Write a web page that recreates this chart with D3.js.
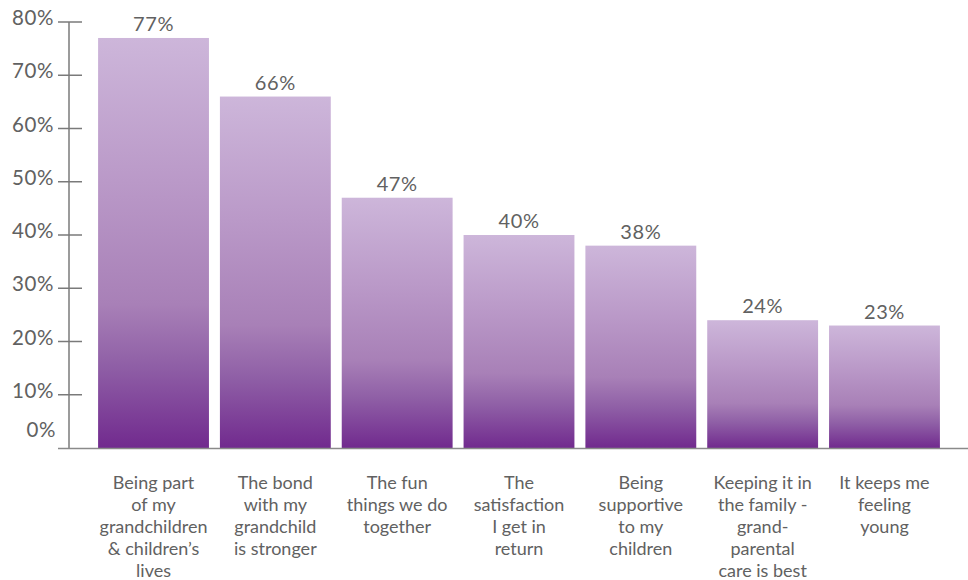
<!DOCTYPE html>
<html>
<head>
<meta charset="utf-8">
<script src="https://cdn.jsdelivr.net/npm/d3@7"></script>
<style>
  html, body { margin: 0; padding: 0; background: #fff; }
  svg { display: block; }
  text { font-family: Lato, "Open Sans", sans-serif; }
</style>
</head>
<body>
<div id="chart"></div>
<script>
// Reasons given by grandparents for providing childcare (% of respondents)
const categories = [
  "Being part of my grandchildren & children's lives",
  "The bond with my grandchild is stronger",
  "The fun things we do together",
  "The satisfaction I get in return",
  "Being supportive to my children",
  "Keeping it in the family - grandparental care is best",
  "It keeps me feeling young"
];
const categoryLines = [
  ["Being part", "of my", "grandchildren", "& children\u2019s", "lives"],
  ["The bond", "with my", "grandchild", "is stronger"],
  ["The fun", "things we do", "together"],
  ["The", "satisfaction", "I get in", "return"],
  ["Being", "supportive", "to my", "children"],
  ["Keeping it in", "the family -", "grand-", "parental", "care is best"],
  ["It keeps me", "feeling", "young"]
];
const values = [77, 66, 47, 40, 38, 24, 23];
const yTicks = [0, 10, 20, 30, 40, 50, 60, 70, 80];

const width = 968, height = 580;
const margin = { top: 22, right: 29, bottom: 132, left: 69 };

const svg = d3.select("#chart").append("svg")
  .attr("width", width).attr("height", height);

// vertical gradient applied per bar: light lilac on top, deep purple at the base
const defs = svg.append("defs");
const grad = defs.append("linearGradient")
  .attr("id", "barFill")
  .attr("x1", 0).attr("y1", 0).attr("x2", 0).attr("y2", 1);
[
  [0.00, "#cdb6da"],
  [0.35, "#ba99c8"],
  [0.65, "#a880b7"],
  [0.80, "#8f5fa6"],
  [1.00, "#712a8e"]
].forEach(([o, c]) => grad.append("stop").attr("offset", o).attr("stop-color", c));

const y = d3.scaleLinear()
  .domain([0, 80])
  .range([height - margin.bottom, margin.top]);

const x = d3.scaleBand()
  .domain(categories)
  .range([92, 946])
  .paddingInner(0.09)
  .paddingOuter(0.05);

const baseY = y(0);
const textColor = "#616161";

// y axis: vertical rule with crossing ticks
const axisColor = "#7a7a7a";
svg.append("line")
  .attr("x1", margin.left).attr("x2", margin.left)
  .attr("y1", y(80)).attr("y2", baseY)
  .attr("stroke", axisColor).attr("stroke-width", 1.5);

const tickVals = yTicks.filter(d => d > 0);
svg.selectAll("line.tick").data(tickVals).enter().append("line")
  .attr("class", "tick")
  .attr("x1", margin.left - 11).attr("x2", margin.left + 13)
  .attr("y1", d => y(d)).attr("y2", d => y(d))
  .attr("stroke", axisColor).attr("stroke-width", 1.5);

svg.selectAll("text.ylab").data(yTicks).enter().append("text")
  .attr("class", "ylab")
  .attr("x", d => d === 0 ? 56 : 54)
  .attr("y", d => d === 0 ? y(d) - 18 : y(d) - 4)
  .attr("dy", "0.35em")
  .attr("text-anchor", "end")
  .attr("font-size", 20.5)
  .attr("letter-spacing", 0.6)
  .attr("fill", textColor)
  .text(d => d + "%");

// bars
svg.selectAll("rect.bar").data(values).enter().append("rect")
  .attr("class", "bar")
  .attr("x", (d, i) => x(categories[i]))
  .attr("width", x.bandwidth())
  .attr("y", d => y(d))
  .attr("height", d => baseY - y(d))
  .attr("fill", "url(#barFill)");

// baseline
svg.append("line")
  .attr("x1", margin.left - 11).attr("x2", width)
  .attr("y1", baseY + 0.5).attr("y2", baseY + 0.5)
  .attr("stroke", "#8a8a8a").attr("stroke-width", 1.5);

// value labels
svg.selectAll("text.val").data(values).enter().append("text")
  .attr("class", "val")
  .attr("x", (d, i) => x(categories[i]) + x.bandwidth() / 2)
  .attr("y", d => y(d) - 7)
  .attr("text-anchor", "middle")
  .attr("font-size", 20)
  .attr("letter-spacing", 0.6)
  .attr("fill", textColor)
  .text(d => d + "%");

// category labels, wrapped
const cat = svg.selectAll("text.cat").data(categoryLines).enter().append("text")
  .attr("class", "cat")
  .attr("text-anchor", "middle")
  .attr("font-size", 18)
  .attr("fill", textColor)
  .attr("transform", (d, i) => `translate(${x(categories[i]) + x.bandwidth() / 2},${baseY + 41})`);
cat.selectAll("tspan").data(d => d).enter().append("tspan")
  .attr("x", 0)
  .attr("y", (d, i) => i * 22)
  .text(d => d);
</script>
</body>
</html>
